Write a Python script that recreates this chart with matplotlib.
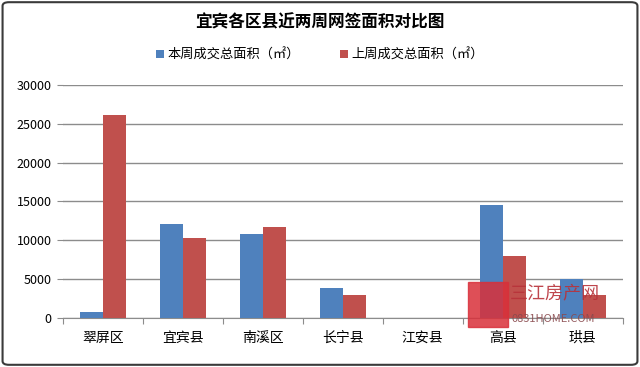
import matplotlib
matplotlib.use("Agg")
import matplotlib.pyplot as plt
import numpy as np
from matplotlib.patches import FancyBboxPatch, Rectangle

plt.rcParams["font.family"] = ["Noto Sans CJK SC", "DejaVu Sans"]
plt.rcParams["axes.unicode_minus"] = False

# 数据
districts = ["翠屏区", "宜宾县", "南溪区", "长宁县", "江安县", "高县", "珙县"]
this_week = [850, 12050, 10820, 3850, 0, 14500, 5050]
last_week = [26100, 10270, 11760, 3030, 0, 8000, 3030]
y_ticks = [0, 5000, 10000, 15000, 20000, 25000, 30000]

blue = "#4F81BD"
red = "#C0504D"

fig = plt.figure(figsize=(6.4, 3.67), dpi=100)
ax = fig.add_axes([0.098, 0.133, 0.875, 0.636])

x = np.arange(len(districts))
w = 0.285
ax.bar(x - w / 2, this_week, width=w, color=blue, label="本周成交总面积（㎡）", zorder=3)
ax.bar(x + w / 2, last_week, width=w, color=red, label="上周成交总面积（㎡）", zorder=3)

ax.set_xlim(-0.5, len(districts) - 0.5)
ax.set_ylim(0, 30000)
ax.set_yticks(y_ticks)
ax.set_yticklabels([str(v) for v in y_ticks], fontsize=9)
ax.yaxis.grid(True, color="#8c8c8c", linewidth=1, zorder=0)

# x轴刻度放在类别分界处
ax.set_xticks(np.arange(len(districts) + 1) - 0.5)
ax.set_xticklabels([])
ax.set_xticks(x, minor=True)
ax.set_xticklabels(districts, minor=True, fontsize=10)
ax.tick_params(axis="x", which="minor", length=0, pad=9)
ax.tick_params(axis="x", which="major", length=4, color="#8c8c8c")
ax.tick_params(axis="y", length=4, color="#8c8c8c", pad=4)

for s in ["top", "right", "left"]:
    ax.spines[s].set_visible(False)
ax.spines["bottom"].set_color("#8c8c8c")

fig.text(0.5, 0.94, "宜宾各区县近两周网签面积对比图", ha="center", va="center",
         fontsize=12, fontweight="bold")
fig.legend(loc="center", bbox_to_anchor=(0.5, 0.85), ncol=2, frameon=False,
           fontsize=9.5, handlelength=0.6, handleheight=0.6, columnspacing=3,
           handletextpad=0.3)

# 水印
fig.patches.append(Rectangle((0.731, 0.11), 0.0625, 0.122, transform=fig.transFigure,
                             color="#d9303a", alpha=0.85, zorder=5))
fig.text(0.797, 0.2, "三江房产网", fontsize=13, color="#b8323a", alpha=0.9,
         va="center", zorder=6)
fig.text(0.8, 0.13, "0831HOME.COM", fontsize=8, color="#8a4a4e", alpha=0.9,
         va="center", zorder=6)

# 外框
fig.patches.append(FancyBboxPatch((0.004, 0.006), 0.992, 0.988,
                                  boxstyle="round,pad=0,rounding_size=0.01",
                                  transform=fig.transFigure, fill=False,
                                  edgecolor="#3a3a3a", linewidth=1.5))

fig.savefig("out.png", dpi=100, facecolor="white")
